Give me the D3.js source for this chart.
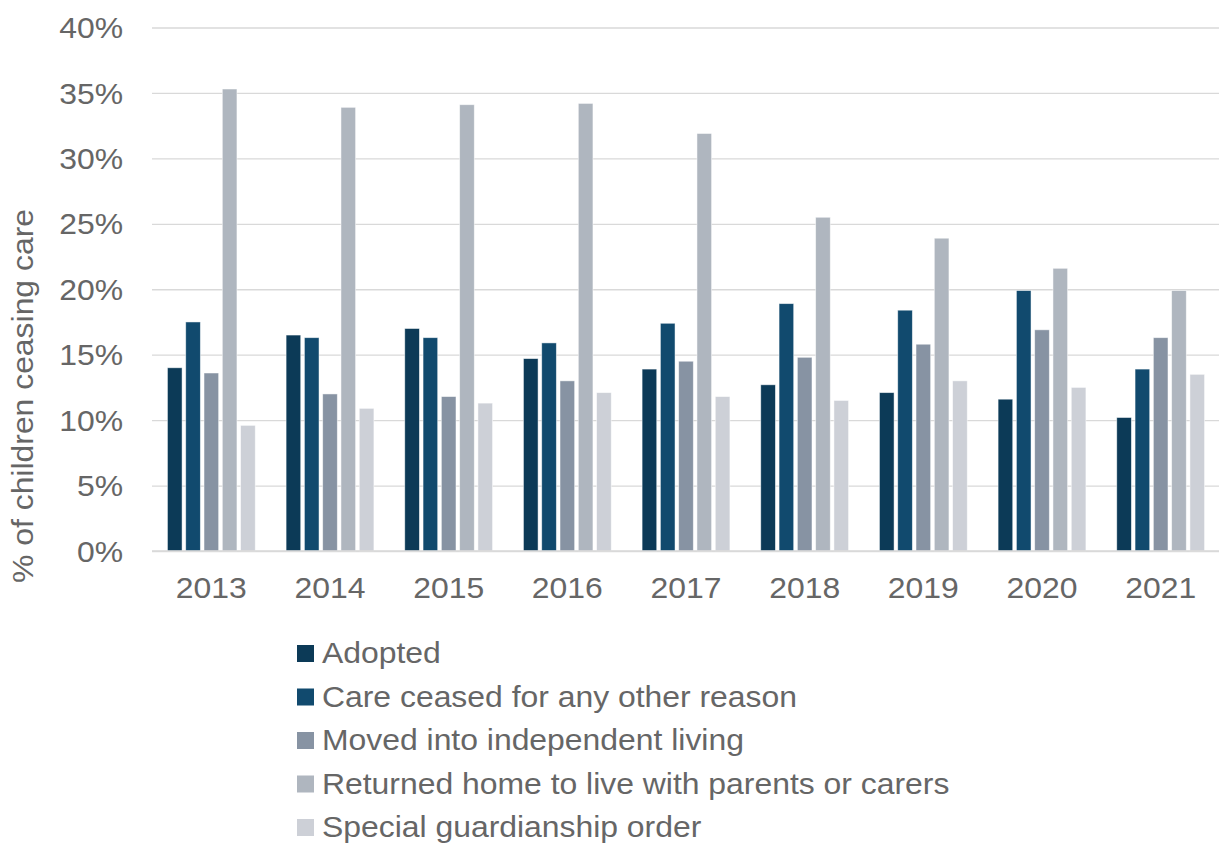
<!DOCTYPE html>
<html>
<head>
<meta charset="utf-8">
<script src="https://cdn.jsdelivr.net/npm/d3@7"></script>
<style>
  html, body { margin: 0; padding: 0; background: #fff; }
  svg { display: block; font-family: "Liberation Sans", Arial, sans-serif; }
</style>
</head>
<body>
<svg id="chart" width="1219" height="843"></svg>
<script>
const years = ["2013","2014","2015","2016","2017","2018","2019","2020","2021"];
const seriesNames = [
  "Adopted",
  "Care ceased for any other reason",
  "Moved into independent living",
  "Returned home to live with parents or carers",
  "Special guardianship order"
];
const adopted     = [14.0, 16.5, 17.0, 14.7, 13.9, 12.7, 12.1, 11.6, 10.2];
const careCeased  = [17.5, 16.3, 16.3, 15.9, 17.4, 18.9, 18.4, 19.9, 13.9];
const movedIndep  = [13.6, 12.0, 11.8, 13.0, 14.5, 14.8, 15.8, 16.9, 16.3];
const returnedHome= [35.3, 33.9, 34.1, 34.2, 31.9, 25.5, 23.9, 21.6, 19.9];
const specialGO   = [9.6, 10.9, 11.3, 12.1, 11.8, 11.5, 13.0, 12.5, 13.5];
const yTicks = [0, 5, 10, 15, 20, 25, 30, 35, 40];
const yTitle = "% of children ceasing care";

const seriesValues = [adopted, careCeased, movedIndep, returnedHome, specialGO];
const colors = ["#0c3a57", "#114a6e", "#8793a3", "#afb6bf", "#cdd0d7"];

const svg = d3.select("#chart");
const mLeft = 152, mRight = 1220, mTop = 27.5, mBottom = 551;
const sx = 1.10; // text widening along the reading direction
const fs = 29;

const x0 = d3.scaleBand().domain(years).range([mLeft, mRight]).paddingInner(0.26).paddingOuter(0.13);
const x1 = d3.scaleBand().domain(d3.range(seriesNames.length)).range([0, x0.bandwidth()]).paddingInner(0.2);
const y = d3.scaleLinear().domain([0, 40]).range([mBottom, mTop]);

// gridlines + y axis labels
const yAxis = d3.axisLeft(y).tickValues(yTicks).tickFormat(d => d + "%").tickSize(-(1219 - mLeft)).tickPadding(0);
const gy = svg.append("g").attr("transform", `translate(${mLeft},0)`).call(yAxis);
gy.select(".domain").remove();
gy.selectAll(".tick line").attr("stroke", "#d9d9d9").attr("stroke-width", 1.3);
gy.selectAll(".tick text")
  .attr("x", -29 / sx)
  .attr("dy", "0.35em")
  .attr("transform", `scale(${sx},1)`)
  .attr("fill", "#666")
  .attr("font-size", fs)
  .attr("font-family", "'Liberation Sans', Arial, sans-serif");

// bars
const groups = svg.append("g").selectAll("g").data(years).join("g")
  .attr("transform", d => `translate(${x0(d)},0)`);
groups.selectAll("rect")
  .data((d, i) => seriesValues.map((s, k) => ({k, v: s[i]})))
  .join("rect")
  .attr("x", d => x1(d.k))
  .attr("width", x1.bandwidth())
  .attr("y", d => y(d.v))
  .attr("height", d => y(0) - y(d.v))
  .attr("fill", d => colors[d.k])
  .attr("stroke", "#ffffff")
  .attr("stroke-opacity", 0.6)
  .attr("stroke-width", 0.8);

// x axis
const xAxis = d3.axisBottom(x0).tickSize(0).tickPadding(0);
const gx = svg.append("g").attr("transform", `translate(0,${mBottom})`).call(xAxis);
gx.select(".domain").attr("stroke", "#d9d9d9").attr("stroke-width", 1.3)
  .attr("d", `M${mLeft},0H1219`);
gx.selectAll(".tick text")
  .attr("y", 47)
  .attr("dy", 0)
  .attr("transform", `scale(${sx},1)`)
  .attr("x", 0)
  .attr("fill", "#666")
  .attr("font-size", fs)
  .attr("font-family", "'Liberation Sans', Arial, sans-serif");

// y title
svg.append("text")
  .attr("transform", `translate(33,${396}) rotate(-90) scale(${sx},1)`)
  .attr("text-anchor", "middle")
  .attr("fill", "#666")
  .attr("font-size", fs)
  .text(yTitle);

// legend
const legend = svg.append("g");
const rows = legend.selectAll("g").data(seriesNames).join("g")
  .attr("transform", (d, i) => `translate(297,${645 + i * 43.5})`);
rows.append("rect").attr("width", 17).attr("height", 17).attr("fill", (d, i) => colors[i]);
rows.append("text")
  .attr("transform", `translate(25,18) scale(${sx},1)`)
  .attr("fill", "#666")
  .attr("font-size", fs)
  .text(d => d);
</script>
</body>
</html>
